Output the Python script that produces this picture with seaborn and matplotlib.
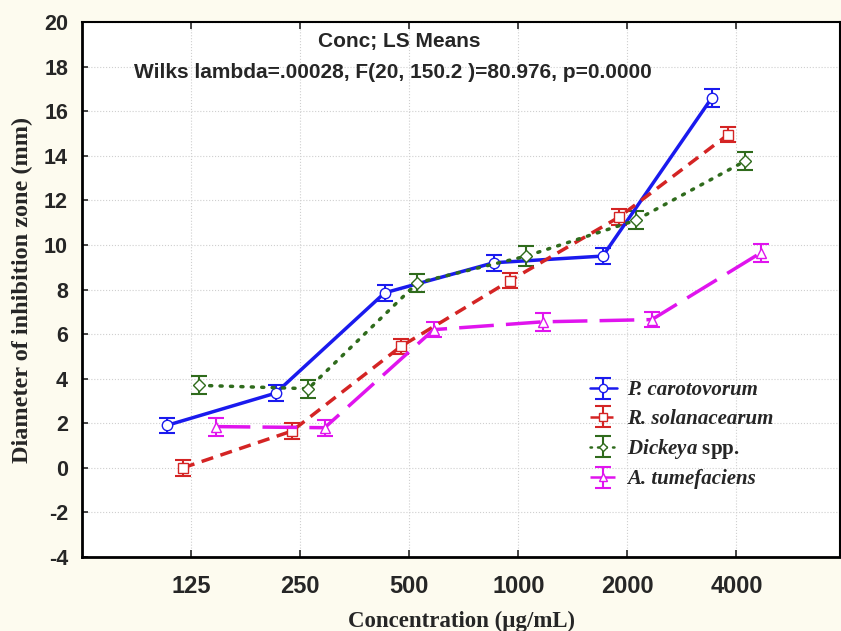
import numpy as np
import pandas as pd
import seaborn as sns
import matplotlib.pyplot as plt
from matplotlib.lines import Line2D
from matplotlib.legend_handler import HandlerTuple

concentrations = ["125", "250", "500", "1000", "2000", "4000"]
series = ["P. carotovorum", "R. solanacearum", "Dickeya spp.", "A. tumefaciens"]

p_caro = [1.9, 3.35, 7.85, 9.2, 9.5, 16.6]
r_sola = [0.0, 1.65, 5.45, 8.4, 11.25, 14.95]
dickeya = [3.7, 3.55, 8.3, 9.5, 11.1, 13.75]
a_tume = [1.85, 1.8, 6.2, 6.55, 6.65, 9.65]

p_caro_err = [0.35, 0.35, 0.35, 0.35, 0.35, 0.4]
r_sola_err = [0.35, 0.35, 0.35, 0.35, 0.35, 0.35]
dickeya_err = [0.4, 0.4, 0.4, 0.45, 0.4, 0.4]
a_tume_err = [0.4, 0.35, 0.35, 0.4, 0.35, 0.4]

means = [p_caro, r_sola, dickeya, a_tume]
errs = [p_caro_err, r_sola_err, dickeya_err, a_tume_err]

colors = ["#1a1aee", "#d42424", "#2f6b1c", "#e014ee"]
styles = ["-", (0, (3.5, 2.2)), (0, (0.6, 2.4)), (0, (10, 3.5))]
caps = ["butt", "butt", "round", "butt"]
markers = ["o", "s", "D", "^"]
msizes = [7.5, 7, 6, 7.5]
offsets = [-0.225, -0.075, 0.075, 0.225]
# "spp." is upright, the rest of each legend entry is italic
labels = ["P. carotovorum", "R. solanacearum", r"Dickeya $\mathrm{spp.}$",
          "A. tumefaciens"]

sns.set_style("ticks")
plt.rcParams["mathtext.fontset"] = "custom"
plt.rcParams["mathtext.rm"] = "Liberation Serif:bold"
plt.rcParams["axes.unicode_minus"] = False
plt.rcParams["font.family"] = ["Liberation Sans", "DejaVu Sans"]

bg = "#fdfbef"
fig = plt.figure(figsize=(8.41, 6.31), dpi=100, facecolor=bg)
ax = fig.add_axes([82 / 841, 1 - 557 / 631, 758 / 841, 535 / 631])
ax.set_facecolor("white")

pos = np.arange(1, len(concentrations) + 1)
rows = []
for name, m, off in zip(series, means, offsets):
    for p, v in zip(pos, m):
        rows.append({"series": name, "x": p + off, "y": v})
df = pd.DataFrame(rows)

handles = []
for i, name in enumerate(series):
    d = df[df["series"] == name]
    eb = ax.errorbar(d["x"], d["y"], yerr=errs[i], fmt="none", ecolor=colors[i],
                     elinewidth=1.5, capsize=5.5, capthick=1.5, zorder=2)
    sns.lineplot(data=d, x="x", y="y", ax=ax, color=colors[i], linestyle=styles[i],
                 linewidth=2.5, marker=markers[i], markersize=msizes[i],
                 markerfacecolor="white", markeredgecolor=colors[i],
                 markeredgewidth=1.0, legend=False, zorder=3,
                 solid_capstyle="butt", dash_capstyle=caps[i])
    proxy = Line2D([], [], color=colors[i], linestyle=styles[i], linewidth=1.8,
                   marker=markers[i], markersize=msizes[i] - 1.5,
                   markerfacecolor="white", markeredgecolor=colors[i],
                   markeredgewidth=1.0, dash_capstyle=caps[i])
    handles.append((eb, proxy))

ax.set_xlim(0, 6.95)
ax.set_ylim(-4, 20)
ax.set_xticks(pos)
ax.set_xticklabels(concentrations)
ax.set_yticks(np.arange(-4, 21, 2))
ax.grid(True, color="#cfcfcf", linestyle=":", linewidth=0.8)
ax.set_axisbelow(True)

for lab in ax.get_xticklabels():
    lab.set_fontsize(17)
    lab.set_fontweight("bold")
for lab in ax.get_yticklabels():
    lab.set_fontsize(15.5)
    lab.set_fontweight("bold")
ax.tick_params(axis="x", direction="in", length=5, width=1.2, pad=13, top=True)
ax.tick_params(axis="y", direction="in", length=4, width=1.2, pad=10)

for side in ["left", "bottom"]:
    ax.spines[side].set_linewidth(2.0)
ax.spines["top"].set_linewidth(1.5)
ax.spines["right"].set_linewidth(1.5)
for s in ax.spines.values():
    s.set_color("black")

ax.set_xlabel("Concentration (µg/mL)", fontsize=16.5, fontweight="bold",
              family="Liberation Serif", labelpad=9)
ax.set_ylabel("Diameter of inhibition zone (mm)", fontsize=17.5, fontweight="bold",
              family="Liberation Serif", labelpad=8)

ax.text(0.418, 0.964, "Conc; LS Means", transform=ax.transAxes, ha="center",
        va="center", fontsize=15, fontweight="bold")
ax.text(0.41, 0.905, "Wilks lambda=.00028, F(20, 150.2 )=80.976, p=0.0000",
        transform=ax.transAxes, ha="center", va="center", fontsize=15,
        fontweight="bold")

leg = ax.legend(handles, labels, handler_map={tuple: HandlerTuple(ndivide=1, pad=0)},
                loc="upper left", bbox_to_anchor=(0.645, 0.365), frameon=False,
                prop={"family": "Liberation Serif", "weight": "bold",
                      "style": "italic", "size": 15},
                handlelength=1.3, handletextpad=0.5, labelspacing=0.4)

fig.savefig("out.png", dpi=100, facecolor=bg)
